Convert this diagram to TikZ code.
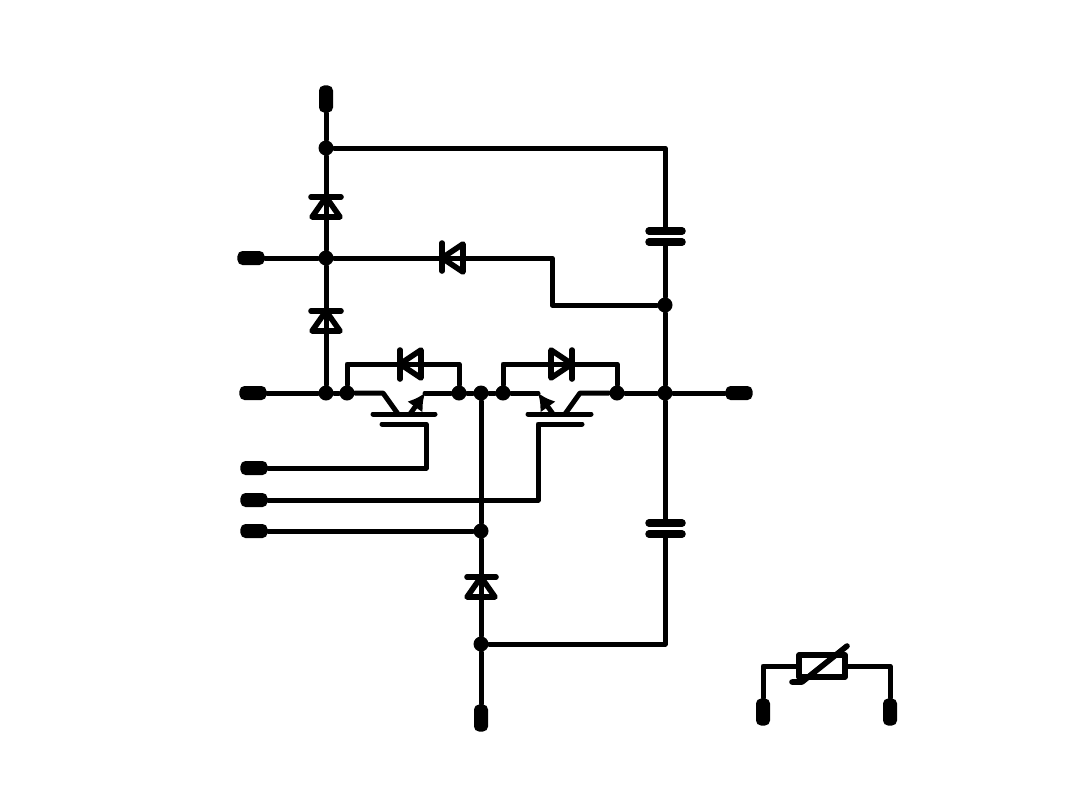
\documentclass[tikz,border=0pt]{standalone}
\usepackage{tikz}
\usetikzlibrary{arrows.meta}

\tikzset{
	wire/.style={black,line width=0.05cm,line cap=round,line join=round},
	sym/.style={black,line width=0.056cm,line cap=round,line join=round},
	plate/.style={black,line width=0.075cm,line cap=round},
	junct/.style={circle,fill=black,inner sep=0pt,minimum size=0.15cm},
	termh/.style={rectangle,fill=black,rounded corners=0.05cm,inner sep=0pt,minimum width=0.27cm,minimum height=0.14cm},
	termv/.style={rectangle,fill=black,rounded corners=0.05cm,inner sep=0pt,minimum width=0.14cm,minimum height=0.27cm},
	emit/.style={wire,-{Latex[length=0.17cm,width=0.19cm]}},
}

\begin{document}
\begin{tikzpicture}[x=0.01cm,y=-0.01cm]
		\useasboundingbox (0,0) rectangle (1080,809);
		
		% Terminals
		\node[termv] (topT) at (326,99) {};
		\node[termh] (midT) at (251,258) {};
		\node[termh] (leftT) at (253,393) {};
		\node[termh] (gateA) at (254,468) {};
		\node[termh] (gateB) at (254,500) {};
		\node[termh] (auxT) at (254,531) {};
		\node[termh] (rightT) at (739,393) {};
		\node[termv] (botT) at (481,718) {};
		\node[termv] (thA) at (763,712) {};
		\node[termv] (thB) at (890,712) {};
		
		% Junctions
		\node[junct] (j1) at (326,148) {};
		\node[junct] (j2) at (326,258) {};
		\node[junct] (j3) at (326,393) {};
		\node[junct] (j4) at (347,393) {};
		\node[junct] (j5) at (459,393) {};
		\node[junct] (j6) at (481,393) {};
		\node[junct] (j7) at (503,393) {};
		\node[junct] (j8) at (617,393) {};
		\node[junct] (j9) at (665,393) {};
		\node[junct] (j10) at (665,305) {};
		\node[junct] (j11) at (481,531) {};
		\node[junct] (j12) at (481,644) {};
		
		% Bends
		\coordinate (bendA) at (552,258);
		\coordinate (bendB) at (552,305);
		\coordinate (loopA) at (347,364);
		\coordinate (loopB) at (459,364);
		\coordinate (loopC) at (503,364);
		\coordinate (loopD) at (617,364);
		
		% Capacitors
		\coordinate (capAt) at (665,231);
		\coordinate (capAb) at (665,242);
		\coordinate (capBt) at (665,523);
		\coordinate (capBb) at (665,534);
		\draw[plate] (649,231) -- (682,231);
		\draw[plate] (649,242) -- (682,242);
		\draw[plate] (649,523) -- (682,523);
		\draw[plate] (649,534) -- (682,534);
		
		% Main wires
		\draw[wire] (topT) -- (j1) -- (j2) -- (j3);
		\draw[wire] (j1) -| (capAt);
		\draw[wire] (capAb) -- (j10) -- (j9) -- (capBt);
		\draw[wire] (capBb) |- (j12);
		\draw[wire] (midT) -- (j2) -- (bendA) -- (bendB) -- (j10);
		\draw[wire] (auxT) -- (j11);
		\draw[wire] (j6) -- (j11) -- (j12) -- (botT);
		\draw[wire] (j5) -- (j6) -- (j7);
		\draw[wire] (j8) -- (j9) -- (rightT);
		\draw[wire] (leftT) -- (j3) -- (j4);
		\draw[wire] (j4) -- (loopA) -- (loopB) -- (j5);
		\draw[wire] (j7) -- (loopC) -- (loopD) -- (j8);
		
		% Vertical diodes
		\draw[sym] (311,197) -- (341,197);
		\draw[sym] (326,197) -- (312,217) -- (340,217) -- cycle;
		\draw[sym] (311,311) -- (341,311);
		\draw[sym] (326,311) -- (312,331) -- (340,331) -- cycle;
		\draw[sym] (467,577) -- (496,577);
		\draw[sym] (481,577) -- (467,597) -- (495,597) -- cycle;
		
		% Horizontal diodes
		\draw[sym] (442,243) -- (442,271);
		\draw[sym] (442,258) -- (463,244) -- (463,272) -- cycle;
		\draw[sym] (400,350) -- (400,379);
		\draw[sym] (400,364) -- (421,350) -- (421,378) -- cycle;
		\draw[sym] (572,350) -- (572,379);
		\draw[sym] (572,364) -- (551,350) -- (551,378) -- cycle;
		
		% Left transistor
		\coordinate (collA) at (383,393);
		\coordinate (emitA) at (425,393);
		\coordinate (gateC) at (426,424);
		\draw[wire] (j4) -- (collA) -- (398,414);
		\draw[wire] (373,414) -- (435,414);
		\draw[wire] (382,424) -- (gateC) |- (gateA);
		\draw[emit] (410,414) -- (emitA);
		\draw[wire] (emitA) -- (j5);
		
		% Right transistor
		\coordinate (emitB) at (538,393);
		\coordinate (collB) at (580,393);
		\coordinate (gateD) at (538,424);
		\draw[wire] (j7) -- (emitB);
		\draw[emit] (553,414) -- (emitB);
		\draw[wire] (528,414) -- (591,414);
		\draw[wire] (582,424) -- (gateD) |- (gateB);
		\draw[wire] (j8) -- (collB) -- (565,414);
		
		% Thermistor
		\node[draw,sym,rectangle,inner sep=0pt,minimum width=0.46cm,minimum height=0.22cm] (therm) at (822,666) {};
		\draw[wire] (thA) |- (therm.west);
		\draw[wire] (thB) |- (therm.east);
		\draw[sym] (847,646) -- (802,682) -- (792,682);
	\end{tikzpicture}
\end{document}
